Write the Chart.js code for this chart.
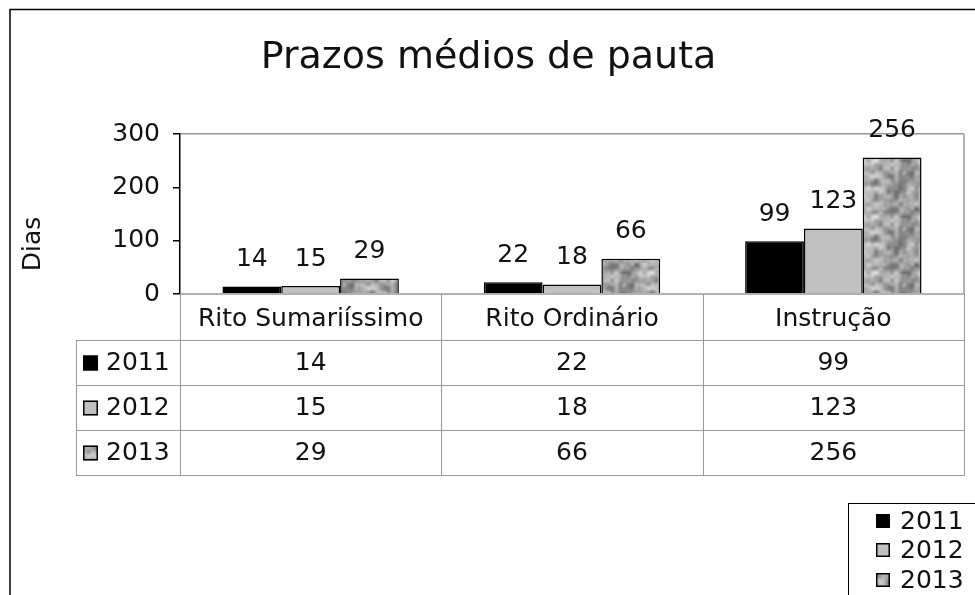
<!DOCTYPE html>
<html>
<head>
<meta charset="utf-8">
<script src="https://cdn.jsdelivr.net/npm/chart.js@4/dist/chart.umd.min.js"></script>
<style>
    html, body { margin: 0; padding: 0; background: #fff; }
    #contenedor { width: 975px; height: 595px; }
</style>
</head>
<body>
<div id="contenedor"><canvas id="grafico" width="975" height="595"></canvas></div>
<script>
const categorias = ['Rito Sumariíssimo', 'Rito Ordinário', 'Instrução'];
const anos = ['2011', '2012', '2013'];
const valores2011 = [14, 22, 99];
const valores2012 = [15, 18, 123];
const valores2013 = [29, 66, 256];
const ticksY = [0, 100, 200, 300];

const fuente = 'DejaVu Sans';
const colorTexto = '#111';
const colorLinea = '#999';

// textura gris tipo "granito" para 2013 (ruido determinista, no datos)
const ruido = (i) => {
    const x = Math.sin(i * 12.9898 + 78.233) * 43758.5453;
    return x - Math.floor(x);
};

const creaTextura = () => {
    const tam = 56;
    const c = document.createElement('canvas');
    c.width = tam;
    c.height = tam;
    const cx = c.getContext('2d');
    const img = cx.createImageData(tam, tam);
    const octava = (x, y, celdas, semilla) => {
        const paso = tam / celdas;
        const gx = x / paso, gy = y / paso;
        const x0 = Math.floor(gx), y0 = Math.floor(gy);
        const fx = gx - x0, fy = gy - y0;
        const v = (a, b) => ruido(((a % celdas) * 131 + (b % celdas)) * 7 + semilla);
        const sx = fx * fx * (3 - 2 * fx), sy = fy * fy * (3 - 2 * fy);
        const a = v(x0, y0) * (1 - sx) + v(x0 + 1, y0) * sx;
        const b = v(x0, y0 + 1) * (1 - sx) + v(x0 + 1, y0 + 1) * sx;
        return a * (1 - sy) + b * sy;
    };
    for (let y = 0; y < tam; y++) {
        for (let x = 0; x < tam; x++) {
            const v = 0.6 * octava(x, y, 8, 1) + 0.4 * octava(x, y, 14, 5);
            const g = Math.round(95 + v * 135);
            const k = (y * tam + x) * 4;
            img.data[k] = g;
            img.data[k + 1] = g;
            img.data[k + 2] = g;
            img.data[k + 3] = 255;
        }
    }
    cx.putImageData(img, 0, 0);
    return c;
};

const ctx = document.getElementById('grafico').getContext('2d');
const patron = ctx.createPattern(creaTextura(), 'repeat');
const rellenos = ['#000000', '#c0c0c0', patron];
const series = [valores2011, valores2012, valores2013];

const pluginFondo = {
    id: 'fondo',
    beforeDraw(chart) {
        const c = chart.ctx;
        c.save();
        c.fillStyle = '#fff';
        c.fillRect(0, 0, chart.width, chart.height);
        c.strokeStyle = '#000';
        c.lineWidth = 1.5;
        c.strokeRect(10, 9.5, 1100, 1100);
        c.restore();
    }
};

const cuadro = (c, x, y, tam, relleno) => {
    c.fillStyle = relleno;
    c.fillRect(x, y, tam, tam);
    c.strokeStyle = '#000';
    c.lineWidth = 1.5;
    c.strokeRect(x + 0.75, y + 0.75, tam - 1.5, tam - 1.5);
};

const pluginTabla = {
    id: 'tabla',
    afterDraw(chart) {
        const c = chart.ctx;
        const area = chart.chartArea;
        c.save();

        // borde derecho e inferior del área de trazado
        c.strokeStyle = colorLinea;
        c.lineWidth = 1.5;
        c.beginPath();
        c.moveTo(area.right, area.top);
        c.lineTo(area.right, area.bottom);
        c.moveTo(area.left, area.bottom);
        c.lineTo(area.right, area.bottom);
        c.stroke();

        // título del eje
        c.fillStyle = colorTexto;
        c.font = '25px "' + fuente + '"';
        c.textAlign = 'center';
        c.textBaseline = 'middle';
        c.save();
        c.translate(33, 244);
        c.rotate(-Math.PI / 2);
        c.fillText('Dias', 0, 0);
        c.restore();

        // etiquetas de valores sobre las barras
        chart.data.datasets.forEach((ds, i) => {
            chart.getDatasetMeta(i).data.forEach((barra, j) => {
                c.fillText(String(ds.data[j]), barra.x, barra.y - 27);
            });
        });

        // tabla de datos
        const ancho = (area.right - area.left) / categorias.length;
        const filas = [area.bottom, 340, 385, 430, 475];
        const izq = 76;
        c.strokeStyle = colorLinea;
        c.lineWidth = 1;
        c.beginPath();
        for (let i = 1; i < filas.length; i++) {
            c.moveTo(izq, filas[i] + 0.5);
            c.lineTo(area.right, filas[i] + 0.5);
        }
        for (let i = 0; i <= categorias.length; i++) {
            const x = Math.round(area.left + i * ancho) + 0.5;
            c.moveTo(x, filas[0]);
            c.lineTo(x, filas[4] + 0.5);
        }
        c.moveTo(izq + 0.5, filas[1]);
        c.lineTo(izq + 0.5, filas[4] + 0.5);
        c.stroke();

        c.fillStyle = colorTexto;
        categorias.forEach((cat, j) => {
            c.fillText(cat, area.left + (j + 0.5) * ancho, 319);
        });
        series.forEach((valores, i) => {
            const yc = (filas[i + 1] + filas[i + 2]) / 2 + 1;
            cuadro(c, 83, yc - 8, 15, rellenos[i]);
            c.fillStyle = colorTexto;
            c.textAlign = 'left';
            c.fillText(anos[i], 106, yc);
            c.textAlign = 'center';
            valores.forEach((v, j) => {
                c.fillText(String(v), area.left + (j + 0.5) * ancho, yc);
            });
        });

        // leyenda
        c.strokeStyle = '#000';
        c.lineWidth = 1;
        c.strokeRect(848.5, 503.5, 300, 300);
        const yLeyenda = [521, 550, 580];
        anos.forEach((a, i) => {
            cuadro(c, 876, yLeyenda[i] - 7, 14, rellenos[i]);
            c.fillStyle = colorTexto;
            c.textAlign = 'left';
            c.fillText(a, 900, yLeyenda[i] + 1);
        });

        c.restore();
    }
};

new Chart(ctx, {
    type: 'bar',
    data: {
        labels: categorias,
        datasets: anos.map((a, i) => ({
            label: a,
            data: series[i],
            backgroundColor: rellenos[i],
            borderColor: '#000',
            borderWidth: 1.5,
            categoryPercentage: 0.675,
            barPercentage: 1
        }))
    },
    options: {
        responsive: false,
        animation: false,
        devicePixelRatio: 1,
        layout: {
            padding: { top: 10, left: 13, right: 11, bottom: 301 }
        },
        plugins: {
            legend: { display: false },
            tooltip: { enabled: false },
            title: {
                display: true,
                text: 'Prazos médios de pauta',
                color: colorTexto,
                font: { family: fuente, size: 38, weight: 'normal' },
                padding: { top: 25, bottom: 53.4 }
            }
        },
        scales: {
            x: {
                ticks: { display: false },
                grid: { display: false },
                border: { display: false },
                afterFit: (s) => { s.height = 0; }
            },
            y: {
                min: 0,
                max: 300,
                afterBuildTicks: (s) => { s.ticks = ticksY.map(v => ({ value: v })); },
                afterFit: (s) => { s.width = 167; },
                ticks: {
                    color: colorTexto,
                    font: { family: fuente, size: 25 },
                    padding: 13
                },
                grid: {
                    color: (c) => c.tick && c.tick.value === 300 ? colorLinea : 'rgba(0,0,0,0)',
                    lineWidth: 1.5,
                    tickColor: '#000',
                    tickLength: 7
                },
                border: { color: '#000', width: 1.5 }
            }
        }
    },
    plugins: [pluginFondo, pluginTabla]
});
</script>
</body>
</html>
